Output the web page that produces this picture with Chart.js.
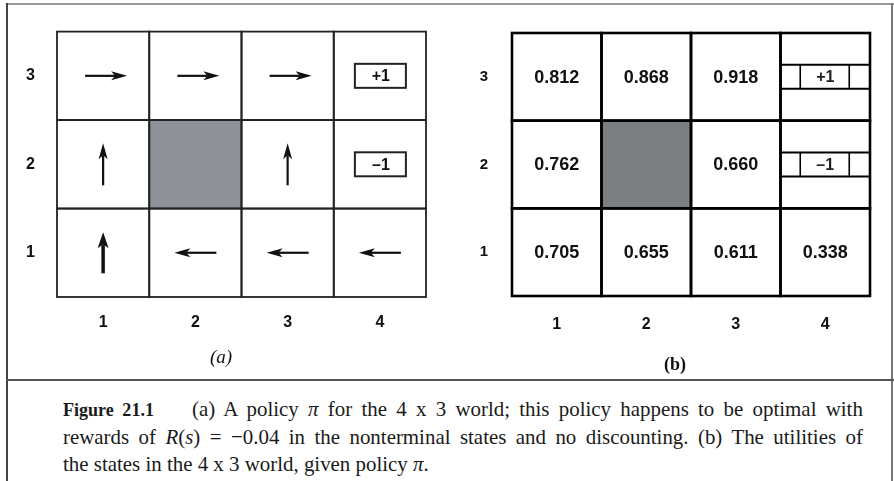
<!DOCTYPE html>
<html lang="en">
<head>
<meta charset="utf-8">
<title>Figure 21.1</title>
<script src="https://cdn.jsdelivr.net/npm/chart.js@4.4.1/dist/chart.umd.min.js"></script>
<style>
    html, body { margin: 0; padding: 0; background: #fff; }
    #figura { position: relative; width: 894px; height: 481px; overflow: hidden; background: #fff; }
    .traco { position: absolute; }
    canvas { position: absolute; top: 0; }
    #graficoA { left: 0; }
    #graficoB { left: 447px; }
    .sub { position: absolute; width: 100px; text-align: center; font-family: "Liberation Serif", serif; color: #111; line-height: 20px; }
    #legenda { position: absolute; left: 63px; top: 395px; width: 842px; font-family: "Liberation Serif", serif; font-size: 22px; line-height: 27px; color: #1a1a1a; transform: scaleX(0.95); transform-origin: 0 0; }
    #legenda div { white-space: nowrap; }
    #legenda .just { text-align: justify; text-align-last: justify; white-space: normal; }
    #legenda b { font-size: 19px; }
</style>
</head>
<body>
<div id="figura">
    <div class="traco" style="left:6px;top:3px;width:888px;height:2px;background:#9a9a9a"></div>
    <div class="traco" style="left:6px;top:3px;width:2px;height:478px;background:#444"></div>
    <div class="traco" style="left:891px;top:3px;width:2px;height:478px;background:#777"></div>
    <div class="traco" style="left:6px;top:379px;width:888px;height:2px;background:#555"></div>

    <canvas id="graficoA" width="447" height="378"></canvas>
    <canvas id="graficoB" width="447" height="378"></canvas>

    <div class="sub" style="left:171px;top:347px;font-size:19px;font-style:italic">(a)</div>
    <div class="sub" style="left:625px;top:354px;font-size:18px;font-weight:bold">(b)</div>

    <div id="legenda">
        <div class="just"><b>Figure 21.1</b><span style="display:inline-block;width:40px"></span>(a) A policy <i>π</i> for the 4 x 3 world; this policy happens to be optimal with</div>
        <div class="just">rewards of <i>R</i>(<i>s</i>) = −0.04 in the nonterminal states and no discounting. (b) The utilities of</div>
        <div>the states in the 4 x 3 world, given policy <i>π</i>.</div>
    </div>
</div>

<script>
// ============================================
// DADOS
// ============================================
const colunas = [1, 2, 3, 4];
const linhas = [1, 2, 3];

// (a) política - linha 1 em baixo, linha 3 em cima
const politicaLinha1 = ['up', 'left', 'left', 'left'];
const politicaLinha2 = ['up', null, 'up', null];
const politicaLinha3 = ['right', 'right', 'right', null];

// (b) utilidades
const utilidadesLinha1 = [0.705, 0.655, 0.611, 0.338];
const utilidadesLinha2 = [0.762, null, 0.660, null];
const utilidadesLinha3 = [0.812, 0.868, 0.918, null];

const parede = { x: 2, y: 2 };
const terminais = [
    { x: 4, y: 3, texto: '+1' },
    { x: 4, y: 2, texto: '–1' }
];

const politica = [politicaLinha1, politicaLinha2, politicaLinha3];
const utilidades = [utilidadesLinha1, utilidadesLinha2, utilidadesLinha3];

// ============================================
// DESENHO
// ============================================
const FONTE = '"Liberation Sans", Arial, sans-serif';

function limites(chart, c, l) {
    const { x, y } = chart.scales;
    const x0 = x.getPixelForValue(c - 0.5), x1 = x.getPixelForValue(c + 0.5);
    const y0 = y.getPixelForValue(l + 0.5), y1 = y.getPixelForValue(l - 0.5);
    return { x0, x1, y0, y1, cx: (x0 + x1) / 2, cy: (y0 + y1) / 2 };
}

function desenharGrelha(chart, estilo) {
    const ctx = chart.ctx;
    ctx.save();
    linhas.forEach(l => colunas.forEach(c => {
        const b = limites(chart, c, l);
        if (c === parede.x && l === parede.y) {
            ctx.fillStyle = estilo.cinza;
            ctx.fillRect(b.x0, b.y0, b.x1 - b.x0, b.y1 - b.y0);
        }
    }));
    ctx.lineWidth = estilo.espessura;
    ctx.strokeStyle = estilo.cor;
    linhas.forEach(l => colunas.forEach(c => {
        const b = limites(chart, c, l);
        ctx.strokeRect(b.x0, b.y0, b.x1 - b.x0, b.y1 - b.y0);
    }));
    ctx.restore();
}

function seta(ctx, cx, cy, dir, grossa) {
    const v = { up: [0, -1], down: [0, 1], left: [-1, 0], right: [1, 0] }[dir];
    const p = [-v[1], v[0]];
    const comp = grossa ? 41 : 42;
    const cab = 16;
    const larg = grossa ? 5.5 : 4.5;
    const hx = cx + v[0] * comp / 2, hy = cy + v[1] * comp / 2;
    const tx = cx - v[0] * comp / 2, ty = cy - v[1] * comp / 2;
    const bx = hx - v[0] * cab, by = hy - v[1] * cab;
    ctx.lineWidth = grossa ? 3.5 : 2.2;
    ctx.beginPath();
    ctx.moveTo(tx, ty);
    ctx.lineTo(bx + v[0] * 4, by + v[1] * 4);
    ctx.stroke();
    ctx.beginPath();
    ctx.moveTo(hx, hy);
    ctx.lineTo(bx + p[0] * larg, by + p[1] * larg);
    ctx.lineTo(bx + v[0] * 4, by + v[1] * 4);
    ctx.lineTo(bx - p[0] * larg, by - p[1] * larg);
    ctx.closePath();
    ctx.fill();
}

const pluginPolitica = {
    id: 'politica',
    afterDatasetsDraw(chart) {
        const ctx = chart.ctx;
        desenharGrelha(chart, { cor: '#222', espessura: 1.8, cinza: '#8e9197' });
        ctx.save();
        ctx.fillStyle = '#111';
        ctx.strokeStyle = '#111';
        politica.forEach((linha, i) => linha.forEach((acao, j) => {
            if (!acao) return;
            const b = limites(chart, colunas[j], linhas[i]);
            seta(ctx, b.cx + (acao === 'right' ? 3 : 0), b.cy, acao, i === 0 && j === 0);
        }));
        terminais.forEach(t => {
            const b = limites(chart, t.x, t.y);
            ctx.lineWidth = 2;
            ctx.strokeStyle = '#222';
            ctx.strokeRect(b.cx - 25, b.cy - 12, 51, 24);
            ctx.font = 'bold 16px ' + FONTE;
            ctx.textAlign = 'center';
            ctx.textBaseline = 'middle';
            ctx.fillText(t.texto, b.cx + 1, b.cy + 1);
        });
        ctx.restore();
    }
};

const pluginUtilidades = {
    id: 'utilidades',
    afterDatasetsDraw(chart) {
        const ctx = chart.ctx;
        desenharGrelha(chart, { cor: '#000', espessura: 2.6, cinza: '#7c7f82' });
        ctx.save();
        ctx.fillStyle = '#111';
        ctx.font = 'bold 18px ' + FONTE;
        ctx.textAlign = 'center';
        ctx.textBaseline = 'middle';
        utilidades.forEach((linha, i) => linha.forEach((u, j) => {
            if (u === null) return;
            const b = limites(chart, colunas[j], linhas[i]);
            ctx.fillText(u.toFixed(3), b.cx, b.cy + 1);
        }));
        terminais.forEach(t => {
            const b = limites(chart, t.x, t.y);
            ctx.strokeStyle = '#000';
            ctx.lineWidth = 2;
            ctx.beginPath();
            ctx.moveTo(b.x0, b.cy - 12); ctx.lineTo(b.x1, b.cy - 12);
            ctx.moveTo(b.x0, b.cy + 12); ctx.lineTo(b.x1, b.cy + 12);
            ctx.stroke();
            ctx.lineWidth = 1.6;
            ctx.beginPath();
            ctx.moveTo(b.cx - 25, b.cy - 12); ctx.lineTo(b.cx - 25, b.cy + 12);
            ctx.moveTo(b.cx + 24, b.cy - 12); ctx.lineTo(b.cx + 24, b.cy + 12);
            ctx.stroke();
            ctx.font = 'bold 16px ' + FONTE;
            ctx.fillStyle = '#222';
            ctx.fillText(t.texto, b.cx, b.cy + 1);
        });
        ctx.restore();
    }
};

// ============================================
// GRÁFICOS
// ============================================
function eixos(larguraY, alturaX, padX, padY, tamY) {
    const base = {
        type: 'linear',
        grid: { display: false, drawTicks: false },
        border: { display: false },
        ticks: { color: '#111', maxRotation: 0, autoSkip: false }
    };
    return {
        x: {
            ...base, min: 0.5, max: 4.5,
            ticks: { ...base.ticks, padding: padX, font: { family: FONTE, size: 16, weight: 'bold' } },
            afterBuildTicks: s => { s.ticks = colunas.map(v => ({ value: v })); },
            afterFit: s => { s.height = alturaX; }
        },
        y: {
            ...base, min: 0.5, max: 3.5,
            ticks: { ...base.ticks, padding: padY, font: { family: FONTE, size: tamY, weight: 'bold' } },
            afterBuildTicks: s => { s.ticks = linhas.map(v => ({ value: v })); },
            afterFit: s => { s.width = larguraY; }
        }
    };
}

function pontos(matriz) {
    const res = [];
    matriz.forEach((linha, i) => linha.forEach((v, j) => {
        if (v !== null) res.push({ x: colunas[j], y: linhas[i] });
    }));
    return res;
}

new Chart(document.getElementById('graficoA'), {
    type: 'scatter',
    data: { datasets: [{ data: pontos(politica), pointRadius: 0 }] },
    options: {
        responsive: false,
        animation: false,
        layout: { padding: { top: 20, right: 21, left: 0, bottom: 0 } },
        plugins: { legend: { display: false }, tooltip: { enabled: false } },
        scales: eixos(57, 81, 16, 22, 16)
    },
    plugins: [pluginPolitica]
});

new Chart(document.getElementById('graficoB'), {
    type: 'scatter',
    data: { datasets: [{ data: pontos(utilidades), pointRadius: 0 }] },
    options: {
        responsive: false,
        animation: false,
        layout: { padding: { top: 32, right: 24, left: 0, bottom: 0 } },
        plugins: { legend: { display: false }, tooltip: { enabled: false } },
        scales: eixos(65, 82, 19, 24, 15)
    },
    plugins: [pluginUtilidades]
});
</script>
</body>
</html>
